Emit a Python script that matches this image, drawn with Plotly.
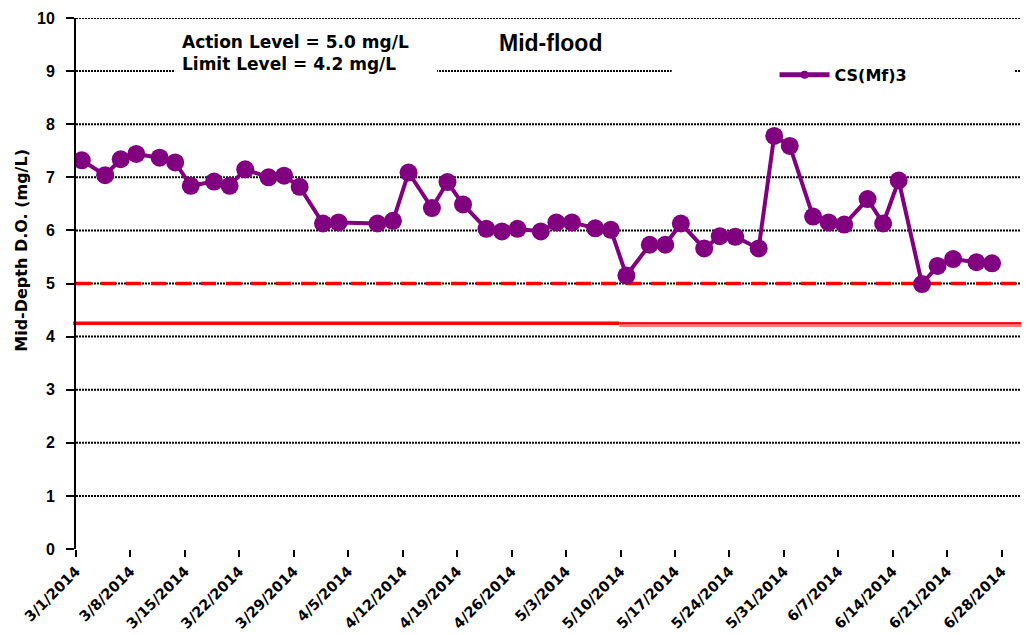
import pandas as pd
import plotly.graph_objects as go

# sampling dates and mid-depth D.O. (mg/L) at station CS(Mf)3
dates = [
    "2014-03-01", "2014-03-04", "2014-03-06", "2014-03-08", "2014-03-11",
    "2014-03-13", "2014-03-15", "2014-03-18", "2014-03-20", "2014-03-22",
    "2014-03-25", "2014-03-27", "2014-03-29", "2014-04-01", "2014-04-03",
    "2014-04-08", "2014-04-10", "2014-04-12", "2014-04-15", "2014-04-17",
    "2014-04-19", "2014-04-22", "2014-04-24", "2014-04-26", "2014-04-29",
    "2014-05-01", "2014-05-03", "2014-05-06", "2014-05-08", "2014-05-10",
    "2014-05-13", "2014-05-15", "2014-05-17", "2014-05-20", "2014-05-22",
    "2014-05-24", "2014-05-27", "2014-05-29", "2014-05-31", "2014-06-03",
    "2014-06-05", "2014-06-07", "2014-06-10", "2014-06-12", "2014-06-14",
    "2014-06-17", "2014-06-19", "2014-06-21", "2014-06-24", "2014-06-26",
]
do_values = [
    7.32, 7.04, 7.34, 7.44, 7.37, 7.28, 6.84, 6.92, 6.84, 7.15,
    7.00, 7.03, 6.82, 6.13, 6.15, 6.13, 6.18, 7.09, 6.42, 6.91,
    6.49, 6.03, 5.98, 6.03, 5.98, 6.15, 6.15, 6.04, 6.01, 5.15,
    5.73, 5.73, 6.13, 5.66, 5.89, 5.88, 5.66, 7.78, 7.59, 6.26,
    6.15, 6.11, 6.59, 6.13, 6.94, 4.99, 5.33, 5.46, 5.40, 5.38,
]
series_name = "CS(Mf)3"

tick_dates = pd.date_range("2014-03-01", "2014-06-28", freq="7D")
y_ticks = list(range(0, 11))

action_level = 5.0
limit_level = 4.2
limit_line = 4.25  # where the limit line sits in the original chart

PURPLE = "#800080"
RED = "#FF0000"
WIDE = "DejaVu Sans"
ARIAL = "Liberation Sans"

# samples were taken during the day, not at midnight
x = pd.to_datetime(dates) + pd.Timedelta(hours=18)

fig = go.Figure()

fig.add_trace(go.Scatter(
    x=x, y=do_values, mode="lines+markers", name=series_name,
    line=dict(color=PURPLE, width=4),
    marker=dict(color=PURPLE, size=18),
    showlegend=False,
))
# legend entry only (small marker like the original)
fig.add_trace(go.Scatter(
    x=[None], y=[None], mode="lines+markers", name=series_name,
    line=dict(color=PURPLE, width=5),
    marker=dict(color=PURPLE, size=8),
))

shapes = []
# dotted gridlines (none on the zero line)
for v in y_ticks[1:]:
    shapes.append(dict(type="line", xref="paper", x0=0, x1=1, yref="y", y0=v, y1=v,
                       line=dict(color="black", width=2, dash="2px,1px"), layer="below"))
# white boxes behind the note and the legend
shapes.append(dict(type="rect", xref="paper", yref="paper", x0=0.104, x1=0.379,
                   y0=0.885, y1=0.985, fillcolor="white", line_width=0, layer="between"))
shapes.append(dict(type="rect", xref="paper", yref="paper", x0=0.625, x1=0.985,
                   y0=0.865, y1=0.935, fillcolor="white", line_width=0, layer="between"))
# action level (dashed) and limit level (solid)
shapes.append(dict(type="line", xref="paper", x0=0, x1=1, yref="y", y0=action_level, y1=action_level,
                   line=dict(color=RED, width=3.5, dash="15px,10px"), layer="between"))
shapes.append(dict(type="line", xref="paper", x0=-0.003, x1=0.57, yref="y", y0=limit_line, y1=limit_line,
                   line=dict(color=RED, width=3.5), layer="between"))
shapes.append(dict(type="line", xref="paper", x0=0.57, x1=1, yref="y", y0=limit_line - 0.02, y1=limit_line - 0.02,
                   line=dict(color="#FF7F7F", width=5), layer="between"))
shapes.append(dict(type="line", xref="paper", x0=0.57, x1=1, yref="y", y0=limit_line, y1=limit_line,
                   line=dict(color=RED, width=2), layer="between"))

# the page body has an 8px margin, so the figure is 8px smaller on each side
fig.update_layout(
    width=1021, height=627,
    margin=dict(l=68, r=0, t=10, b=86),
    paper_bgcolor="white", plot_bgcolor="white",
    shapes=shapes,
    showlegend=True,
    legend=dict(x=0.733, y=0.893, xanchor="left", yanchor="middle",
                bgcolor="rgba(0,0,0,0)", itemwidth=50,
                font=dict(family=WIDE, size=16, color="black", weight=700)),
    annotations=[
        dict(xref="paper", yref="paper", x=0.109, y=0.934, xanchor="left", yanchor="middle",
             align="left", showarrow=False,
             text=f"Action Level = {action_level:.1f} mg/L<br>Limit Level = {limit_level:.1f} mg/L",
             font=dict(family=WIDE, size=17, color="black", weight=700)),
        dict(xref="paper", yref="paper", x=0.498, y=0.953, xanchor="center", yanchor="middle",
             showarrow=False, text="<b>Mid-flood</b>",
             font=dict(family=ARIAL, size=23, color="black", weight=700)),
        # axis title sits above the axis centre in the original
        dict(xref="paper", yref="paper", x=-0.058, y=0.563, xanchor="center", yanchor="middle",
             textangle=-90, showarrow=False, text="Mid-Depth D.O. (mg/L)",
             font=dict(family=WIDE, size=16, color="black", weight=700)),
    ],
    xaxis=dict(
        type="date", automargin=False,
        range=["2014-03-01", "2014-07-01 12:00"],
        tickvals=tick_dates, tickformat="%-m/%-d/%Y", tickangle=-45,
        ticks="outside", ticklen=7, tickwidth=2, tickcolor="black",
        showgrid=False, zeroline=False, showline=False,
        tickfont=dict(family=WIDE, size=14.5, color="black", weight=700),
    ),
    yaxis=dict(
        range=[0, 10], tickvals=y_ticks, automargin=False,
        ticktext=[f"<b>{v}</b>" for v in y_ticks],
        ticks="outside", ticklen=8, tickwidth=2, tickcolor="black",
        showline=True, linecolor="black", linewidth=2,
        showgrid=False, zeroline=False, ticklabelstandoff=8,
        tickfont=dict(family=ARIAL, size=16, color="black", weight=700),
    ),
)

fig.write_html("out.html")
